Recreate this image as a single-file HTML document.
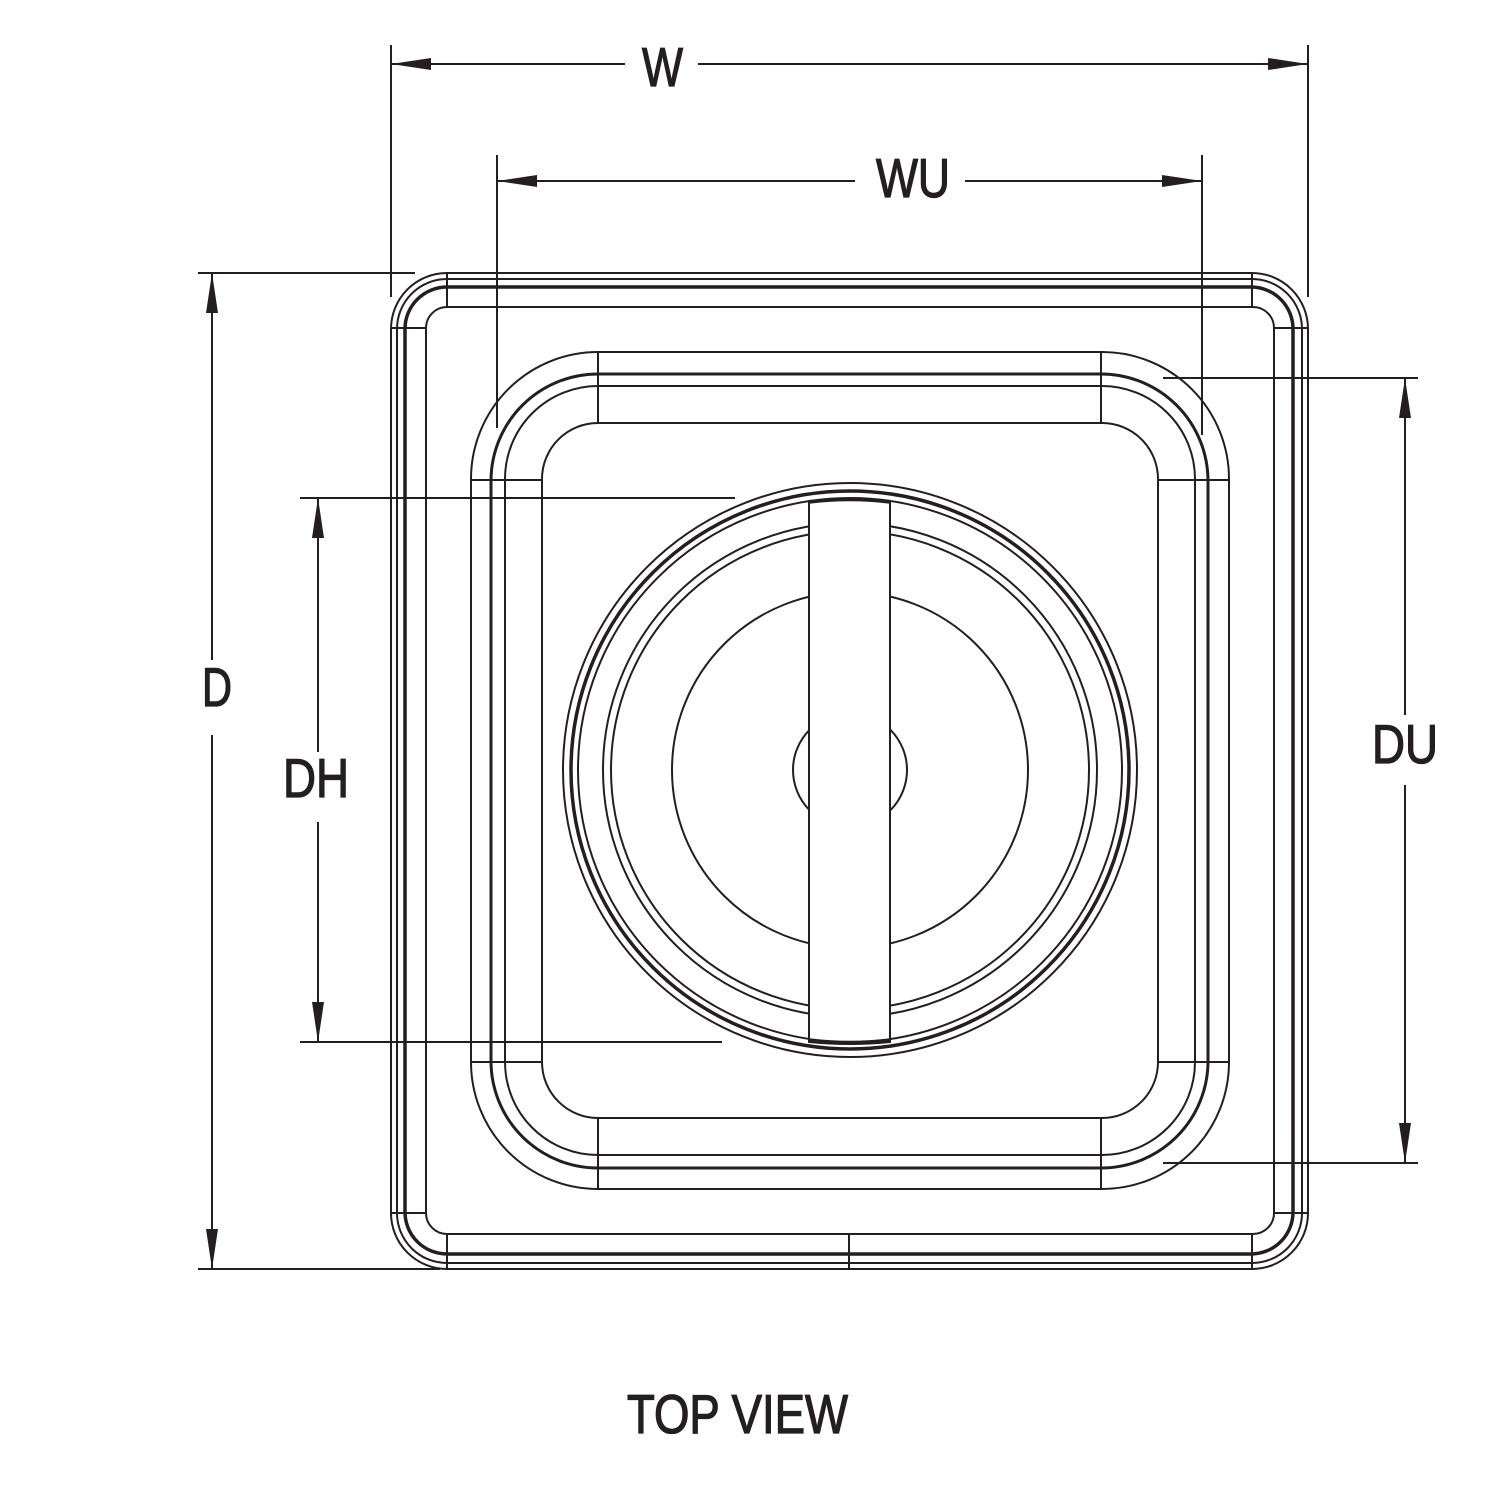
<!DOCTYPE html>
<html><head><meta charset="utf-8"><style>html,body{margin:0;padding:0;background:#fff}svg{display:block}</style></head>
<body>
<svg width="1500" height="1500" viewBox="0 0 1500 1500" xmlns="http://www.w3.org/2000/svg">
<defs>
<marker id="a" viewBox="0 0 40 12" refX="40" refY="6" markerWidth="40" markerHeight="12" markerUnits="userSpaceOnUse" orient="auto-start-reverse"><path d="M0,0 L40,6 L0,12 Z" fill="#231f20"/></marker>
</defs>
<g fill="none" stroke="#231f20" stroke-width="2">
<rect x="391" y="273" width="917" height="996" rx="56"/>
<rect x="397" y="279" width="905" height="984" rx="50"/>
<rect x="405" y="287" width="888" height="967" rx="42" stroke-width="3.5"/>
<rect x="426" y="307" width="848" height="927" rx="21"/>
<path d="M391,328H426 M1274,328H1308 M391,1213H426 M1274,1213H1308 M447,273V307 M1252,273V307 M447,1234V1269 M1252,1234V1269 M849,1234V1269"/>
<rect x="471" y="352" width="758" height="837" rx="127"/>
<rect x="491" y="374" width="717" height="794" rx="107" stroke-width="3"/>
<rect x="505" y="386" width="690" height="769" rx="93"/>
<rect x="542" y="423" width="616" height="695" rx="56"/>
<path d="M471,480H542 M1158,480H1229 M471,1062H542 M1158,1062H1229 M598,352V423 M1101,352V423 M598,1118V1189 M1101,1118V1189"/>
<circle cx="850" cy="770" r="287"/>
<circle cx="850" cy="770" r="279" stroke-width="3.5"/>
<circle cx="850" cy="770" r="272"/>
<circle cx="850" cy="770" r="247"/>
<circle cx="850" cy="770" r="239"/>
<circle cx="850" cy="770" r="178"/>
<circle cx="850" cy="770" r="57"/>
<path d="M809,501 Q850,498 890,501 V1042 Q850,1046 809,1042 Z" fill="#fff"/>
<path d="M809,502 Q850,497 890,502" stroke-width="3.5"/>
<path d="M809,1040 Q850,1045 890,1040" stroke-width="3.5"/>
<path d="M391,45V297 M1308,45V297 M497,155V428 M1202,155V435 M198,273H415 M198,1269H440 M300,498H735 M300,1042H722 M1163,378H1418 M1163,1163H1418"/>
<path d="M391,64H625 M698,64H1308" marker-start="url(#a)" marker-end="url(#a)"/>
<path d="M497,181H855 M965,181H1202" marker-start="url(#a)" marker-end="url(#a)"/>
<path d="M212,273V660 M212,735V1269" marker-start="url(#a)" marker-end="url(#a)"/>
<path d="M318,498V752 M318,822V1042" marker-start="url(#a)" marker-end="url(#a)"/>
<path d="M1405,378V715 M1405,785V1163" marker-start="url(#a)" marker-end="url(#a)"/>
</g>
<g fill="#231f20" stroke="#231f20" stroke-width="1.3" font-family="'Liberation Sans Narrow','Liberation Sans',sans-serif" font-size="55">
<text x="642" y="86" textLength="41" lengthAdjust="spacingAndGlyphs">W</text>
<text x="876" y="197" textLength="74" lengthAdjust="spacingAndGlyphs">WU</text>
<text x="202" y="706" textLength="30" lengthAdjust="spacingAndGlyphs">D</text>
<text x="283" y="797" textLength="66" lengthAdjust="spacingAndGlyphs">DH</text>
<text x="1372" y="763" textLength="66" lengthAdjust="spacingAndGlyphs">DU</text>
<text x="627" y="1433" textLength="221" lengthAdjust="spacingAndGlyphs">TOP VIEW</text>
</g>
</svg>
</body></html>
